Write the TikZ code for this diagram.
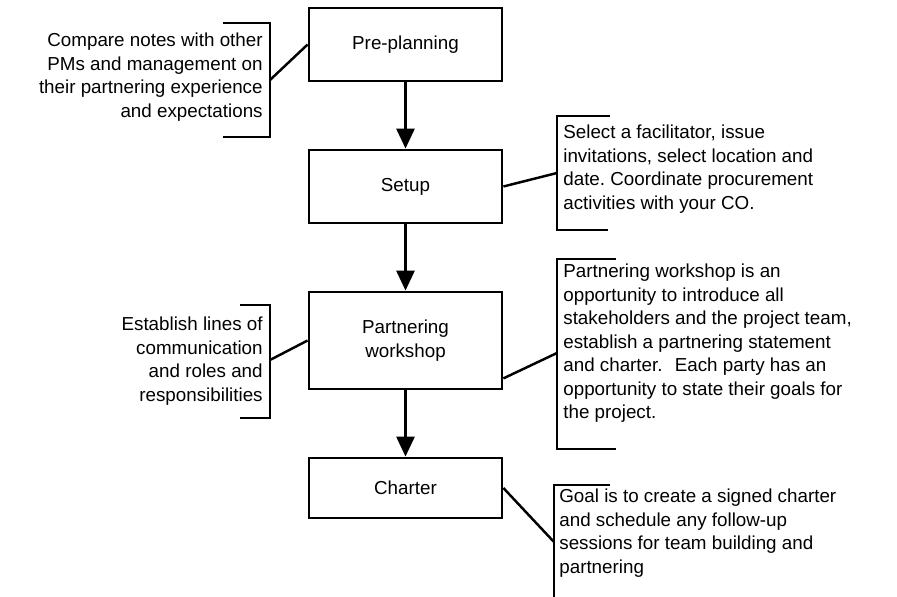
\documentclass[tikz,border=0pt]{standalone}
\usepackage{fontspec}
\setmainfont{Liberation Sans}
\usetikzlibrary{arrows.meta,calc}

\begin{document}
\begin{tikzpicture}[
    x=0.02cm, y=-0.02cm,
    font=\fontsize{10.7}{13.4}\selectfont,
    scatola/.style={draw, line width=1.6pt, minimum width=3.86cm, inner sep=0pt},
    nota/.style={inner sep=0pt},
    graffa/.style={line width=1.5pt},
    linea/.style={line width=1.4pt},
    freccia/.style={line width=1.6pt, -{Triangle[width=0.36cm,length=0.4cm]}},
  ]

  \useasboundingbox (0,0) rectangle (897,597);

  % --- i quattro passi ------------------------------------------------
  \node[scatola, minimum height=1.46cm] (pre)      at (405.5,44.5)  {Pre-planning};
  \node[scatola, minimum height=1.46cm] (setup)    at (405.5,186.5) {Setup};
  \node[scatola, minimum height=1.94cm, align=center] (workshop) at (405.5,340.5)
    {Partnering\\workshop};
  \node[scatola, minimum height=1.20cm] (charter)  at (405.5,488)   {Charter};

  \draw[freccia] (pre) -- (setup);
  \draw[freccia] (setup) -- (workshop);
  \draw[freccia] (workshop) -- (charter);

  % --- note a sinistra ------------------------------------------------
  \node[nota, anchor=east, align=right] (notapre) at (263,77)
    {Compare notes with other\\PMs and management on\\their partnering experience\\and expectations};
  \draw[graffa] (223,23) -- (270,23) -- (270,137) -- (223,137);
  \coordinate (gpre) at (270,80);
  \draw[linea] (gpre) -- (pre.west);

  \node[nota, anchor=east, align=right] (notaws) at (263,361)
    {Establish lines of\\communication\\and roles and\\responsibilities};
  \draw[graffa] (240,305) -- (270,305) -- (270,418) -- (240,418);
  \coordinate (gws) at (270,360);
  \draw[linea] (gws) -- (workshop.west);

  % --- note a destra --------------------------------------------------
  \node[nota, anchor=west, align=left] (notasetup) at (563,169)
    {Select a facilitator, issue\\invitations, select location and\\date.\ Coordinate procurement\\activities with your CO.};
  \draw[graffa] (610,116) -- (557,116) -- (557,230) -- (608,230);
  \coordinate (gsetup) at (557,173);
  \draw[linea] (setup.east) -- (gsetup);

  \node[nota, anchor=west, align=left] (notaws2) at (563,343.5)
    {Partnering workshop is an\\opportunity to introduce all\\stakeholders and the project team,\\establish a partnering statement\\and charter.~ Each party has an\\opportunity to state their goals for\\the project.};
  \draw[graffa] (616,259) -- (557,259) -- (557,449) -- (616,449);
  \coordinate (gws2) at (557,353);
  \draw[linea] ($(workshop.south east)+(0,-12)$) -- (gws2);

  \node[nota, anchor=west, align=left] (notacharter) at (559,533)
    {Goal is to create a signed charter\\and schedule any follow-up\\sessions for team building and\\partnering};
  \draw[graffa] (610,485) -- (554,485) -- (554,600);
  \coordinate (gcharter) at (554,542);
  \draw[linea] (charter.east) -- (gcharter);

\end{tikzpicture}
\end{document}
